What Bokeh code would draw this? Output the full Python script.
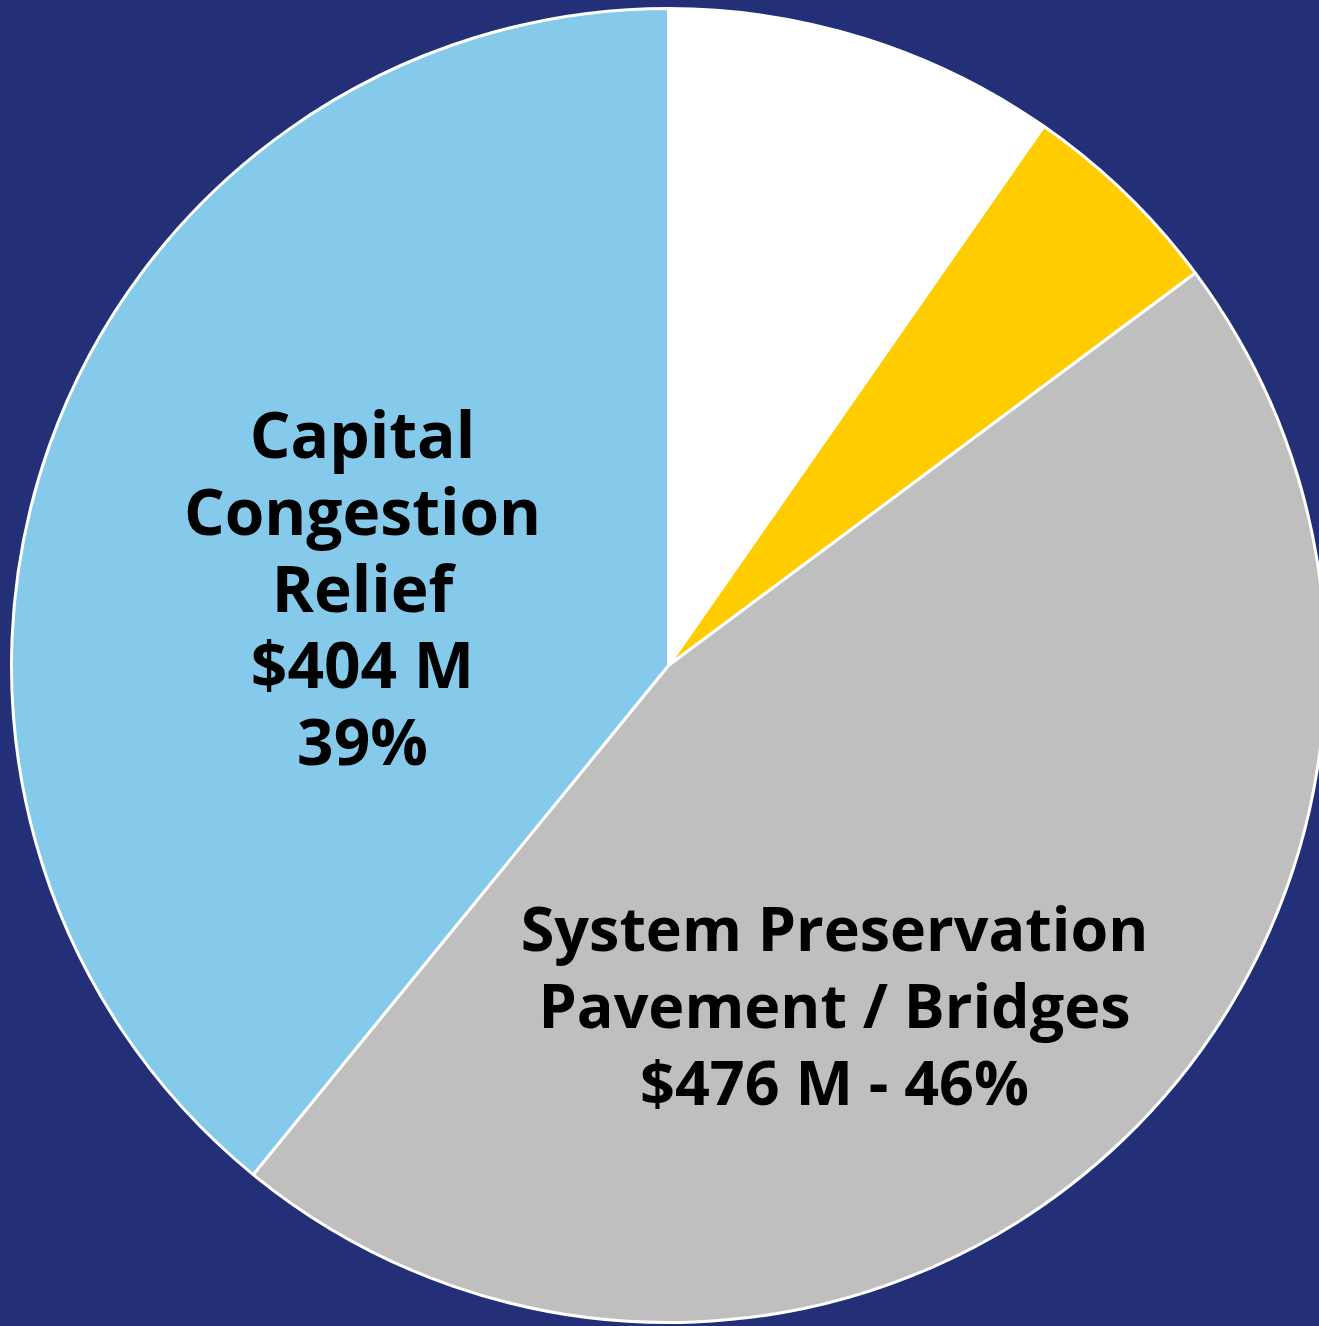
import math
from bokeh.plotting import figure
from bokeh.models import Range1d, ColumnDataSource
from bokeh.core.properties import value
from bokeh.embed import file_html
from bokeh.resources import INLINE

# Data (millions of dollars), clockwise from 12 o'clock
categories = ["Other", "Other 2", "System Preservation Pavement / Bridges", "Capital Congestion Relief"]
amounts = [100, 53, 476, 404]
colors = ["#FFFFFF", "#FFCC00", "#BFBFBF", "#85CAEA"]

blue_label = ["Capital", "Congestion", "Relief", "$404 M", "39%"]
gray_label = ["System Preservation", "Pavement / Bridges", "$476 M - 46%"]

NAVY = "#233077"
W, H = 1319, 1326

total = sum(amounts)
starts, ends = [], []
cum = 0.0
for a in amounts:
    s = cum / total
    cum += a
    e = cum / total
    # clockwise from top -> convert to anticlockwise angles
    starts.append(math.pi / 2 - 2 * math.pi * e)
    ends.append(math.pi / 2 - 2 * math.pi * s)

cx, cy_pix, r = 668, 665, 657
cy = H - cy_pix

p = figure(width=W, height=H, output_backend="svg", toolbar_location=None,
           x_range=Range1d(0, W), y_range=Range1d(0, H), min_border=0)
p.background_fill_color = NAVY
p.border_fill_color = NAVY
p.outline_line_color = None
p.axis.visible = False
p.grid.visible = False

src = ColumnDataSource(dict(cat=categories, start=starts, end=ends, color=colors,
                            x=[cx] * 4, y=[cy] * 4))
p.wedge(x="x", y="y", radius=r, start_angle="start", end_angle="end",
        direction="anticlock", fill_color="color", line_color="white", line_width=3, source=src)

font = value("Open Sans")
blue_y = [433, 510, 587, 663, 740]
p.text(x=[362] * len(blue_label), y=[H - v for v in blue_y], text=blue_label,
       text_font=font, text_font_style="bold", text_font_size="64px",
       text_align="center", text_baseline="middle", text_color="black")
gray_y = [927, 1004, 1081]
p.text(x=[834] * len(gray_label), y=[H - v for v in gray_y], text=gray_label,
       text_font=font, text_font_style="bold", text_font_size="61px",
       text_align="center", text_baseline="middle", text_color="black")

html = file_html(p, INLINE).replace("<body>", '<body style="background:#233077;">')
open("out.html", "w").write(html)
